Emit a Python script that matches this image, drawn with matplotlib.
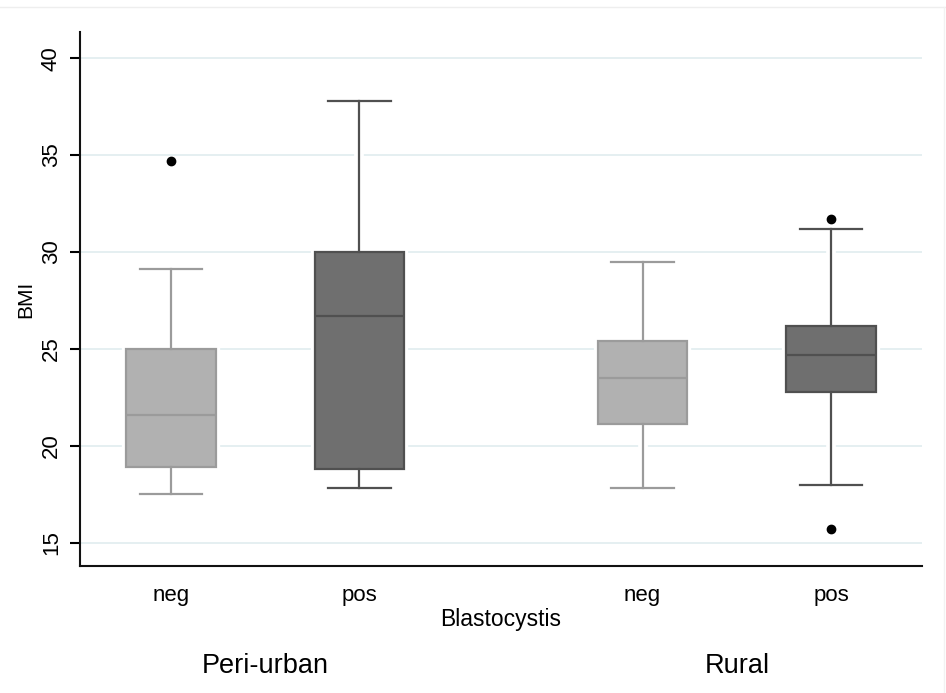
import matplotlib.pyplot as plt

plt.rcParams['font.family'] = ['Liberation Sans', 'DejaVu Sans']

# summary stats (BMI)
groups = ['Peri-urban', 'Rural']
status = ['neg', 'pos', 'neg', 'pos']
positions = [1, 2, 3.5, 4.5]
q1 = [18.9, 18.8, 21.1, 22.8]
med = [21.6, 26.7, 23.5, 24.7]
q3 = [25.0, 30.0, 25.4, 26.2]
whislo = [17.5, 17.8, 17.8, 18.0]
whishi = [29.1, 37.8, 29.5, 31.2]
fliers = [[34.7], [], [], [31.7, 15.7]]

face = ['#b1b1b1', '#6f6f6f', '#b1b1b1', '#6f6f6f']
edge = ['#9b9b9b', '#505050', '#9b9b9b', '#505050']

stats = []
for i in range(4):
    stats.append(dict(q1=q1[i], med=med[i], q3=q3[i], whislo=whislo[i],
                      whishi=whishi[i], fliers=fliers[i]))

fig = plt.figure(figsize=(9.46, 6.93), dpi=100)
ax = fig.add_axes([0.0846, 0.1833, 0.89, 0.7705])

# white halo underneath (gaps in gridlines like Stata draws)
ax.bxp(stats, positions=positions, widths=0.476, capwidths=0.33,
       patch_artist=True, manage_ticks=False, showfliers=False, zorder=1.5,
       boxprops=dict(facecolor='white', edgecolor='white', linewidth=6),
       medianprops=dict(color='white', linewidth=1),
       whiskerprops=dict(color='white', linewidth=7),
       capprops=dict(color='white', linewidth=6))

for i, s in enumerate(stats):
    ax.bxp([s], positions=[positions[i]], widths=0.476, capwidths=0.33,
           patch_artist=True, manage_ticks=False, zorder=2,
           boxprops=dict(facecolor=face[i], edgecolor=edge[i], linewidth=1.6),
           medianprops=dict(color=edge[i], linewidth=1.6),
           whiskerprops=dict(color=edge[i], linewidth=1.6),
           capprops=dict(color=edge[i], linewidth=1.6),
           flierprops=dict(marker='o', markerfacecolor='black',
                           markeredgecolor='black', markersize=6))

ax.set_xlim(0.519, 4.981)
ax.set_ylim(13.8, 41.35)
ax.set_yticks([15, 20, 25, 30, 35, 40])
ax.set_yticklabels(['15', '20', '25', '30', '35', '40'], rotation=90, va='center')
ax.set_xticks(positions)
ax.set_xticklabels(status)
ax.grid(axis='y', color='#e3eef0', linewidth=1.3, zorder=0)
ax.set_axisbelow(True)

for side in ['top', 'right']:
    ax.spines[side].set_visible(False)
for side in ['left', 'bottom']:
    ax.spines[side].set_linewidth(1.5)
    ax.spines[side].set_color('#111111')

ax.tick_params(axis='y', length=7, width=1.5, labelsize=16, pad=6)
ax.tick_params(axis='x', length=0, labelsize=16, pad=14)
ax.set_ylabel('BMI', fontsize=15, labelpad=4)
ax.set_xlabel('Blastocystis', fontsize=16.5, labelpad=1)

# group labels under each pair
for g, x in zip(groups, [1.5, 4.0]):
    ax.text(x, -0.188, g, transform=ax.get_xaxis_transform(),
            ha='center', va='center', fontsize=19.5)

# faint outer frame line
fig.add_artist(plt.Line2D([0, 1], [0.99, 0.99], color='#eeeeee', linewidth=1))
fig.add_artist(plt.Line2D([0.998, 0.998], [0, 0.99], color='#f2f2f2', linewidth=1))

fig.savefig('out.png', dpi=100)
